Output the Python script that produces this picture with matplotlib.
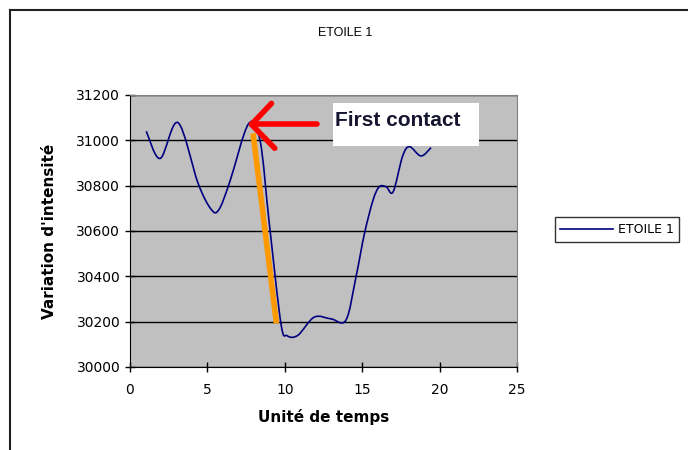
import numpy as np
import matplotlib
matplotlib.use('Agg')
import matplotlib.pyplot as plt
from matplotlib.path import Path
from matplotlib.patches import PathPatch, Rectangle
from matplotlib.lines import Line2D

plt.rcParams['font.family'] = ['DejaVu Sans']

# Series
temps = [1.05, 1.95, 3.1, 4.4, 5.25, 5.75, 6.45, 7.65, 8.4, 9.0, 9.75,
         10.15, 10.85, 11.9, 13.0, 13.95, 14.6, 15.15, 15.7, 16.1, 16.55, 17.0,
         17.6, 18.05, 18.8, 19.45]
intensite = [31040, 30920, 31078, 30810, 30695, 30695, 30818, 31072,
             31000, 30632, 30192, 30138, 30140, 30220, 30212, 30207, 30398, 30590,
             30736, 30795, 30795, 30773, 30928, 30972, 30931, 30968]

# Annotations drawn over the chart (data units)
orange_line = [(7.95, 31031), (9.46, 30192)]
arrow_tip = (7.85, 31070)
arrow_tail = (12.1, 31070)
arrow_barbs = [(9.14, 31163), (9.35, 30965)]
note_box = (13.13, 30975, 9.4, 188)
note_text = 'First contact'
note_pos = (13.25, 31088)

xticks = [0, 5, 10, 15, 20, 25]
yticks = [30000, 30200, 30400, 30600, 30800, 31000, 31200]

W, H = 688, 450
fig = plt.figure(figsize=(W / 100, H / 100), dpi=100)
ax = fig.add_axes([130 / W, 1 - 367 / H, 387 / W, 272 / H])
ax.set_facecolor('#C0C0C0')
ax.set_xlim(0, 25)
ax.set_ylim(30000, 31200)
ax.set_xticks(xticks)
ax.set_yticks(yticks)
ax.yaxis.grid(True, color='black', lw=1)
ax.set_axisbelow(True)
for s in ['top', 'right']:
    ax.spines[s].set_color('#808080')
for s in ['left', 'bottom']:
    ax.spines[s].set_color('black')
ax.tick_params(direction='inout', length=7, width=1, labelsize=10, colors='black')
ax.tick_params(axis='x', pad=8)

# smoothed line like Excel (Catmull-Rom -> cubic Bezier)
pts = np.column_stack([temps, intensite]).astype(float)
ext = np.vstack([pts[0], pts, pts[-1]])
verts = [pts[0]]
codes = [Path.MOVETO]
for i in range(1, len(ext) - 2):
    p0, p1, p2, p3 = ext[i - 1], ext[i], ext[i + 1], ext[i + 2]
    verts += [p1 + (p2 - p0) / 6, p2 - (p3 - p1) / 6, p2]
    codes += [Path.CURVE4] * 3
ax.add_patch(PathPatch(Path(verts, codes), fill=False, edgecolor='#000080', lw=1.2, zorder=3))

# orange line and red arrow
ox, oy = zip(*orange_line)
ax.plot(ox, oy, color='#FF9900', lw=4, solid_capstyle='butt', zorder=4)
for end in [arrow_tail] + arrow_barbs:
    ax.plot([arrow_tip[0], end[0]], [arrow_tip[1], end[1]], color='#FF0000', lw=4,
            solid_capstyle='round', zorder=5, clip_on=False)

ax.add_patch(Rectangle(note_box[:2], note_box[2], note_box[3], facecolor='white',
                       edgecolor='none', zorder=6, clip_on=False))
ax.text(note_pos[0], note_pos[1], note_text, fontsize=15, fontweight='bold',
        family='Liberation Sans', color='#151530', va='center', ha='left', zorder=7)

ax.set_xlabel('Unité de temps', fontsize=11, fontweight='bold', labelpad=9)
ax.set_ylabel("Variation d'intensité", fontsize=11, fontweight='bold', labelpad=14)

fig.text(345 / W, 1 - 33 / H, 'ETOILE 1', fontsize=9, ha='center', va='center',
         family='Liberation Sans')

handle = Line2D([], [], color='#000080', lw=1.2)
leg = fig.legend([handle], ['ETOILE 1'], loc='center', bbox_to_anchor=(617 / W, 1 - 229.5 / H),
                 fontsize=9, frameon=True, fancybox=False, handlelength=4.2,
                 borderpad=0.45, handletextpad=0.4)
leg.get_frame().set_edgecolor('black')
leg.get_frame().set_linewidth(1)

# outer chart border (left and top visible)
fig.add_artist(Line2D([10 / W, 10 / W], [0, 1 - 10 / H], color='#202020', lw=1.5))
fig.add_artist(Line2D([10 / W, 1], [1 - 10 / H, 1 - 10 / H], color='#202020', lw=1.5))

fig.savefig('out.png', dpi=100)
